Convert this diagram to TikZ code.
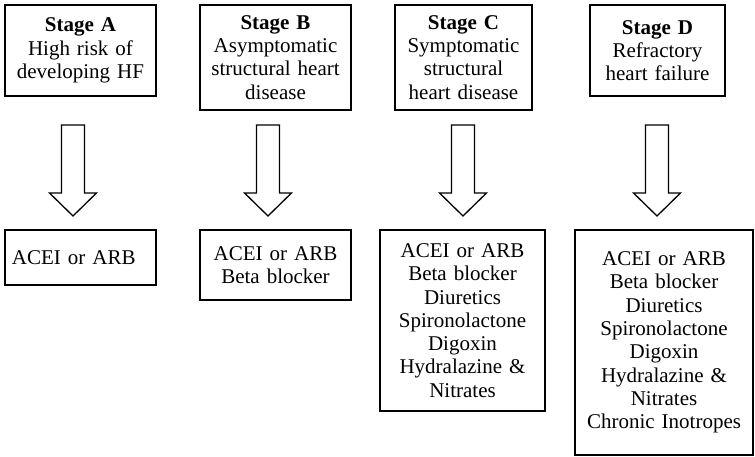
\documentclass[tikz,border=0pt]{standalone}
\usepackage{fontspec}
\setmainfont{Liberation Serif}
\begin{document}
\begin{tikzpicture}[x=1pt,y=-1pt,
  box/.style={draw, line width=1.4pt, align=center, inner sep=0pt,
    font=\fontsize{21}{23.3}\selectfont},
  arrowline/.style={draw, line width=1.3pt, line join=miter}]
\useasboundingbox (0,0) rectangle (755,457);
% top stage boxes
\node[box, minimum width=151pt, minimum height=91pt, text width=148pt] (sa) at (80.5,50.5)
  {\textbf{Stage A}\\High risk of\\developing HF};
\node[box, minimum width=151pt, minimum height=105pt, text width=148pt] (sb) at (275.5,57.5)
  {\textbf{Stage B}\\Asymptomatic\\structural heart\\disease};
\node[box, minimum width=137pt, minimum height=105pt, text width=134pt] (sc) at (463.5,57.5)
  {\textbf{Stage C}\\Symptomatic\\structural\\heart disease};
\node[box, minimum width=135pt, minimum height=91pt, text width=132pt] (sd) at (657.5,50.5)
  {\textbf{Stage D}\\Refractory\\heart failure};
% bottom therapy boxes
\node[box, align=left, minimum width=151pt, minimum height=55pt, text width=137pt, inner xsep=7pt] (ta) at (80.5,257.5)
  {ACEI or ARB};
\node[box, minimum width=151pt, minimum height=70pt, text width=148pt] (tb) at (275.5,265)
  {ACEI or ARB\\Beta blocker};
\node[box, minimum width=165pt, minimum height=181pt, text width=162pt] (tc) at (462.5,320.5)
  {ACEI or ARB\\Beta blocker\\Diuretics\\Spironolactone\\Digoxin\\Hydralazine \&\\Nitrates};
\node[box, minimum width=178pt, minimum height=225pt, text width=175pt] (td) at (664,342.5)
  {ACEI or ARB\\Beta blocker\\Diuretics\\Spironolactone\\Digoxin\\Hydralazine \&\\Nitrates\\Chronic Inotropes};
% block arrows
\foreach \cx/\nm in {73/aa,268/ab,463/ac,657/ad}{
  \draw[arrowline] (\cx-11.5,125) -- (\cx+11.5,125) -- (\cx+11.5,193) -- (\cx+23.5,193)
    -- (\cx,216) coordinate (\nm) -- (\cx-23.5,193) -- (\cx-11.5,193) -- cycle;
}
\end{tikzpicture}
\end{document}
